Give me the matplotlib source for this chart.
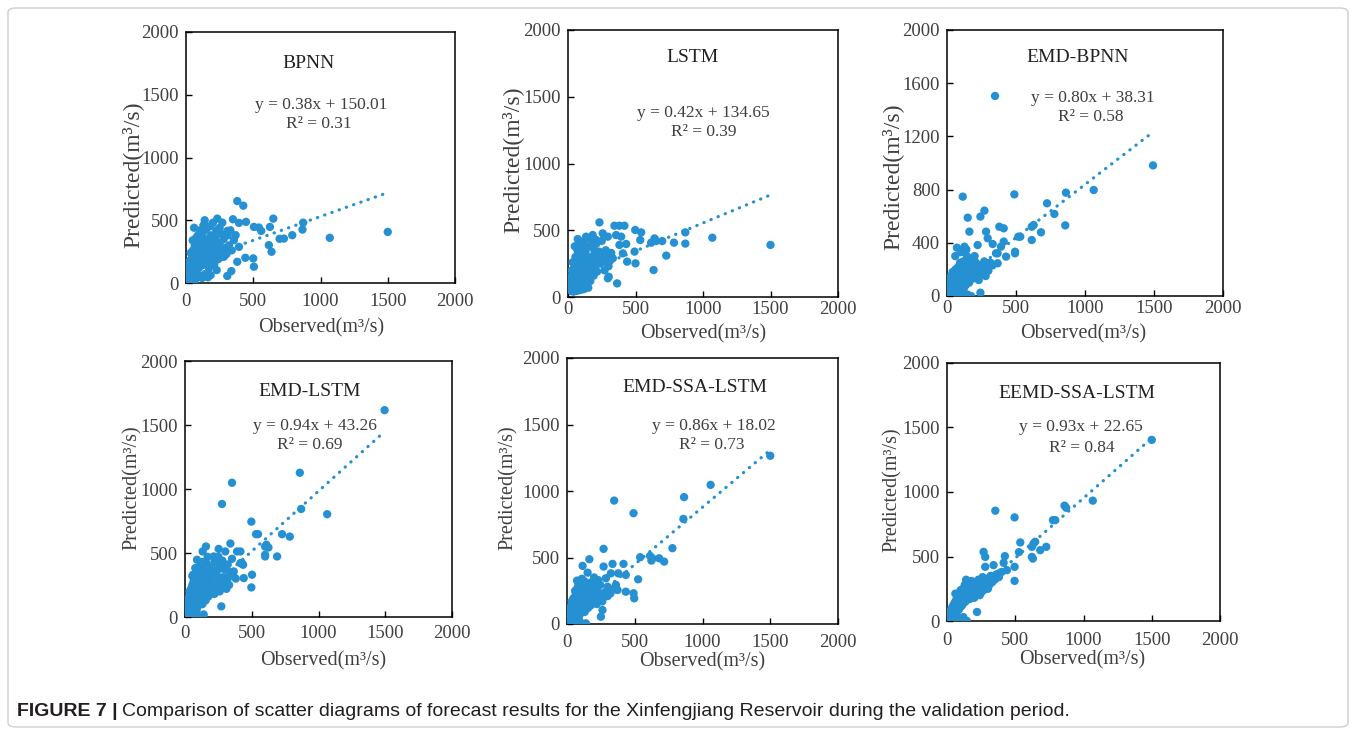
import matplotlib
matplotlib.use("Agg")
import matplotlib.pyplot as plt
from matplotlib.patches import FancyBboxPatch
import numpy as np

# ---------------- data (observed, predicted) ----------------
models = ["BPNN", "LSTM", "EMD-BPNN", "EMD-LSTM", "EMD-SSA-LSTM", "EEMD-SSA-LSTM"]
slopes = [0.38, 0.42, 0.80, 0.94, 0.86, 0.93]
intercepts = [150.01, 134.65, 38.31, 43.26, 18.02, 22.65]
r2_values = [0.31, 0.39, 0.58, 0.69, 0.73, 0.84]

bpnn_pts = [(1500,407),(1069,360),(871,481),(866,426),(790,381),(728,354),(696,352),(649,513),(624,447),(616,302),
            (636,249),(559,415),(542,442),(505,447),(500,196),(505,130),(441,201),(381,653),(426,616),(446,487),
            (394,479),(349,508),(369,381),(307,415),(381,169),(337,95),(307,56),(233,513),(270,481),(139,500),
            (228,103),(183,63),(163,45),(356,341),(394,288),(282,209),
            (10,5),(12,30),(15,60),(18,20),(20,90),(22,140),(25,10),(28,50),(30,180),(32,110),(35,240),(38,75),
            (40,150),(42,30),(45,200),(48,120),(50,340),(52,260),(55,90),(58,170),(60,15),(62,230),(65,300),
            (68,130),(70,60),(72,270),(75,190),(78,100),(80,320),(82,240),(85,150),(88,380),(90,280),(92,200),
            (95,120),(98,330),(100,250),(105,420),(108,170),(110,300),(112,220),(115,360),(118,140),(120,260),
            (125,400),(128,190),(130,310),(135,230),(140,350),(145,160),(150,280),(155,210),(160,330),(165,250),
            (170,120),(175,300),(180,230),(185,380),(190,170),(195,270),(200,330),(205,210),(210,150),(215,360),
            (220,280),(225,420),(230,240),(240,190),(250,320),(255,260),(260,390),(270,210),(280,350),(290,280),
            (300,230),(310,380),(320,300),(330,420),(340,260),(20,40),(30,20),(45,70),(55,40),(65,20),(80,45),
            (100,60),(120,40),(140,70),(60,440),(75,360),(130,460),(150,430),(175,450),(200,480),(250,440)]

lstm_pts = [(1500,390),(1069,444),(869,484),(869,400),(785,407),(728,310),(698,419),(641,439),(653,419),(634,202),
            (616,407),(542,484),(535,427),(498,502),(493,340),(500,252),(431,397),(418,534),(381,534),(344,534),
            (394,452),(356,464),(406,327),(381,390),(364,102),(282,265),(302,152),(295,140),(233,559),(257,477),
            (72,434),(332,290),(438,265),(183,464),(134,452),(208,427),(295,452),
            (10,60),(12,90),(15,120),(18,70),(20,150),(22,50),(25,100),(28,200),(30,80),(32,130),(35,260),(38,60),
            (40,170),(42,110),(45,90),(48,220),(50,140),(52,70),(55,300),(58,180),(60,100),(62,240),(65,60),
            (68,150),(70,350),(72,200),(75,110),(78,280),(80,80),(82,170),(85,230),(88,130),(90,320),(92,60),
            (95,190),(98,260),(100,90),(105,380),(108,150),(110,220),(112,300),(115,120),(118,420),(120,180),
            (125,250),(128,80),(130,340),(135,200),(140,440),(145,150),(150,280),(155,230),(160,380),(165,120),
            (170,300),(175,200),(180,420),(185,260),(190,160),(195,350),(200,230),(205,310),(210,400),(215,190),
            (220,280),(230,340),(240,250),(250,420),(260,300),(270,200),(280,350),(290,310),(300,230),(310,270),
            (320,330),(25,45),(40,40),(60,45),(80,50),(100,55),(120,60),(150,70),(50,380),(90,410),(160,440)]

emd_bpnn_pts = [(348,1504),(1493,982),(1063,797),(862,777),(857,531),(725,697),(778,617),(681,479),(614,521),
                (628,534),(614,421),(531,446),(517,446),(488,764),(493,321),(493,333),(428,296),(411,509),(379,521),
                (114,747),(271,642),(242,597),(150,589),(162,484),(283,484),(295,434),(331,391),(355,321),(391,371),
                (411,409),(222,383),(72,363),(126,371),(295,246),(367,246),(242,25),(367,321),
                (5,0),(8,10),(10,30),(12,60),(15,5),(18,90),(20,40),(22,120),(25,15),(28,70),(30,150),(32,0),
                (35,100),(38,40),(40,180),(42,20),(45,130),(48,60),(50,90),(52,0),(55,160),(58,30),(60,110),
                (62,200),(65,50),(68,140),(70,10),(72,80),(75,170),(78,40),(80,120),(82,220),(85,60),(88,150),
                (90,20),(92,100),(95,250),(98,180),(100,70),(105,140),(108,30),(110,210),(112,100),(115,160),
                (118,260),(120,50),(125,190),(128,120),(130,230),(135,80),(140,170),(145,300),(150,140),(155,220),
                (160,100),(165,260),(170,180),(175,0),(180,240),(185,130),(190,200),(200,160),(210,250),(220,190),
                (230,120),(240,230),(250,170),(260,210),(270,260),(280,150),(290,230),(300,190),(315,250),(330,230),
                (20,0),(40,5),(60,0),(80,10),(100,5),(130,15),(150,10),(60,300),(100,330),(140,350),(200,300)]

emd_lstm_pts = [(1495,1616),(860,1127),(870,844),(1065,803),(352,1049),(277,883),(497,745),(532,647),(547,647),
                (727,647),(785,628),(610,564),(600,550),(625,543),(600,486),(600,473),(690,473),(502,330),(497,231),
                (440,304),(435,408),(427,421),(415,421),(390,512),(415,512),(340,574),(352,455),(365,356),(302,512),
                (252,532),(157,551),(215,473),(90,447),(132,512),(277,382),(272,83),(77,382),
                (5,0),(8,20),(10,50),(12,5),(15,80),(18,30),(20,120),(22,10),(25,60),(28,150),(30,40),(32,100),
                (35,200),(38,20),(40,130),(42,70),(45,220),(48,0),(50,160),(52,90),(55,250),(58,40),(60,180),
                (62,120),(65,280),(68,60),(70,200),(72,140),(75,20),(78,230),(80,100),(82,300),(85,170),(88,60),
                (90,250),(92,130),(95,210),(98,350),(100,90),(105,270),(108,180),(110,240),(112,120),(115,300),
                (118,200),(120,150),(125,380),(128,260),(130,100),(135,220),(140,290),(145,180),(150,250),(155,130),
                (160,320),(165,210),(170,270),(175,160),(180,240),(190,300),(200,200),(210,260),(220,180),(230,330),
                (240,230),(250,290),(260,200),(270,260),(280,310),(290,240),(300,280),(310,220),(320,300),(330,250),
                (30,0),(50,10),(70,5),(100,15),(140,20),
                (60,330),(85,360),(110,400),(120,340),(140,380),(160,420),(180,350),(200,390),(220,430),(240,360),
                (260,400),(280,440),(300,370),(320,410),(340,350),(360,330),(380,300),(250,470),(170,470),(130,430),
                (100,300),(70,280),(55,320)]

emd_ssa_lstm_pts = [(1500,1265),(1060,1046),(864,954),(859,790),(348,928),(491,833),(778,570),(540,502),(613,512),
                    (631,494),(623,477),(680,494),(717,469),(270,565),(525,336),(491,231),(496,193),(434,243),
                    (417,452),(378,381),(336,452),(434,369),(361,294),(324,381),(165,487),(115,437),(152,386),
                    (270,432),(74,326),(123,311),(245,294),(287,344),(373,256),(262,105),(250,55),
                    (5,0),(8,15),(10,40),(12,5),(15,70),(18,25),(20,100),(22,10),(25,50),(28,130),(30,30),(32,85),
                    (35,170),(38,15),(40,110),(42,60),(45,190),(48,0),(50,140),(52,75),(55,200),(58,35),(60,160),
                    (62,100),(65,230),(68,50),(70,180),(72,120),(75,10),(78,210),(80,90),(82,240),(85,150),(88,55),
                    (90,220),(92,115),(95,180),(98,250),(100,80),(105,230),(108,160),(110,200),(112,100),(115,240),
                    (118,170),(120,130),(125,210),(128,250),(130,90),(135,190),(140,230),(145,150),(150,200),
                    (155,120),(160,250),(165,180),(170,220),(175,140),(180,200),(190,240),(200,170),(210,210),
                    (220,150),(230,240),(240,190),(250,220),(260,170),(270,200),(280,240),(300,210),(320,260),
                    (30,0),(50,8),(70,3),(100,12),(140,5),(130,0),
                    (80,280),(100,300),(130,320),(150,280),(170,310),(190,270),(210,300),(230,330),(300,280),
                    (320,230),(350,260),(60,250),(110,340),(200,350)]

eemd_ssa_lstm_pts = [(1500,1404),(1068,933),(861,894),(873,878),(793,782),(776,782),(354,855),(495,803),(537,609),
                     (646,614),(634,601),(622,575),(727,575),(683,549),(622,497),(629,484),(527,534),(495,420),
                     (495,311),(424,503),(415,451),(439,394),(268,536),(280,497),(280,420),(341,433),(378,368),
                     (220,70),
                     (5,5),(8,15),(10,30),(12,0),(15,45),(18,20),(20,60),(22,10),(25,50),(28,80),(30,30),(32,65),
                     (35,100),(38,25),(40,85),(42,55),(45,120),(48,40),(50,100),(52,70),(55,140),(58,50),(60,110),
                     (62,85),(65,160),(68,60),(70,130),(72,100),(75,180),(78,80),(80,150),(82,115),(85,200),(88,90),
                     (90,160),(92,130),(95,210),(98,110),(100,180),(105,140),(108,230),(110,120),(112,190),(115,160),
                     (118,250),(120,140),(125,210),(128,170),(130,280),(135,150),(140,230),(145,190),(150,300),
                     (155,200),(160,250),(165,170),(170,280),(175,220),(180,310),(185,190),(190,260),(200,230),
                     (210,300),(220,250),(230,320),(240,200),(250,280),(260,340),(270,240),(280,300),(290,260),
                     (300,330),(310,280),(320,350),(330,300),(350,320),(360,360),(380,340),(400,380),(146,0),
                     (60,10),(90,20),(120,30),(61,212),(100,240),(140,320),(200,180),(250,220),(300,250)]

all_pts = [bpnn_pts, lstm_pts, emd_bpnn_pts, emd_lstm_pts, emd_ssa_lstm_pts, eemd_ssa_lstm_pts]
x_ticks = [0, 500, 1000, 1500, 2000]
y_ticks_default = [0, 500, 1000, 1500, 2000]
y_ticks_emd_bpnn = [0, 400, 800, 1200, 1600, 2000]

# ---------------- layout (pixels) ----------------
W, H = 1356, 734
BLUE = "#2591D3"
TXT = "#404040"

plt.rcParams["font.family"] = ["Liberation Serif", "DejaVu Serif"]

fig = plt.figure(figsize=(W / 100, H / 100), dpi=100)

def fx(x):
    return x / W

def fy(y):
    return 1 - y / H

# axes boxes: left, top, right, bottom
boxes = [(186, 32, 455, 283), (568, 30, 838, 297), (947, 30, 1223, 296),
         (185, 361, 452, 617), (567, 358, 838, 624), (947, 363, 1220, 621)]
titles_pos = [(309, 63), (693, 58), (1078, 58), (310, 392), (695, 388), (1077, 393)]
eq_pos = [(321, 105), (703, 113), (1093, 98), (315, 426), (714, 426), (1081, 427)]
r2_pos = [(319, 124), (704, 132), (1091, 117), (310, 445), (712, 445), (1082, 448)]
xlab_pos = [(321, 328), (703, 334), (1083, 334), (323, 661), (702, 662), (1082, 660)]
ylab_pos = [(132, 175), (512, 160), (892, 177), (132, 488), (508, 488), (892, 490)]
ylab_size = [17, 17, 17, 14.5, 14.5, 14.5]
xtick_pad = [7, 3, 3, 6, 7, 8]

# border of the figure panel
border = FancyBboxPatch((fx(8), fy(727)), fx(1340), (727 - 8) / H,
                        boxstyle="round,pad=0,rounding_size=0.006",
                        transform=fig.transFigure, fill=False,
                        edgecolor="#cfcfcf", linewidth=1.0)
fig.patches.append(border)

for i, pts in enumerate(all_pts):
    l, t, r, b = boxes[i]
    ax = fig.add_axes([fx(l), fy(b), (r - l) / W, (b - t) / H])
    obs = np.array([p[0] for p in pts], dtype=float)
    pred = np.array([p[1] for p in pts], dtype=float)
    ax.scatter(obs, pred, s=36, color=BLUE, edgecolors="none", zorder=3)
    xl = np.linspace(obs.min(), obs.max(), 200)
    ax.plot(xl, slopes[i] * xl + intercepts[i], color=BLUE, linewidth=2.3,
            linestyle=(0, (0.1, 2.3)), dash_capstyle="round", zorder=2)
    ax.set_xlim(0, 2000)
    ax.set_ylim(0, 2000)
    ax.set_xticks(x_ticks)
    ax.set_yticks(y_ticks_emd_bpnn if i == 2 else y_ticks_default)
    ax.tick_params(direction="in", length=4, width=1, labelsize=13.5,
                   labelcolor=TXT, pad=5)
    ax.tick_params(axis="x", pad=xtick_pad[i])
    for sp in ax.spines.values():
        sp.set_linewidth(1.1)
        sp.set_color("black")

    fig.text(fx(titles_pos[i][0]), fy(titles_pos[i][1]), models[i], ha="center",
             va="center", fontsize=14, color="#222222")
    fig.text(fx(eq_pos[i][0]), fy(eq_pos[i][1]),
             f"y = {slopes[i]:.2f}x + {intercepts[i]:.2f}", ha="center",
             va="center", fontsize=12.5, color=TXT)
    fig.text(fx(r2_pos[i][0]), fy(r2_pos[i][1]), f"R² = {r2_values[i]:.2f}",
             ha="center", va="center", fontsize=12.5, color=TXT)
    fig.text(fx(xlab_pos[i][0]), fy(xlab_pos[i][1]), "Observed(m³/s)",
             ha="center", va="center", fontsize=14.5, color=TXT)
    fig.text(fx(ylab_pos[i][0]), fy(ylab_pos[i][1]), "Predicted(m³/s)",
             ha="center", va="center", fontsize=ylab_size[i], color=TXT,
             rotation=90)

# caption
cap_y = fy(712)
t1 = fig.text(fx(17), cap_y, "FIGURE 7 |", ha="left", va="center", fontsize=14,
              fontweight="bold", family=["Liberation Sans", "DejaVu Sans"], color="#231F20")
fig.canvas.draw()
bb = t1.get_window_extent(renderer=fig.canvas.get_renderer())
fig.text(bb.x1 / W + 4 / W, cap_y,
         "Comparison of scatter diagrams of forecast results for the Xinfengjiang Reservoir during the validation period.",
         ha="left", va="center", fontsize=14, family=["Liberation Sans", "DejaVu Sans"], color="#231F20")

fig.savefig("out.png", dpi=100)
